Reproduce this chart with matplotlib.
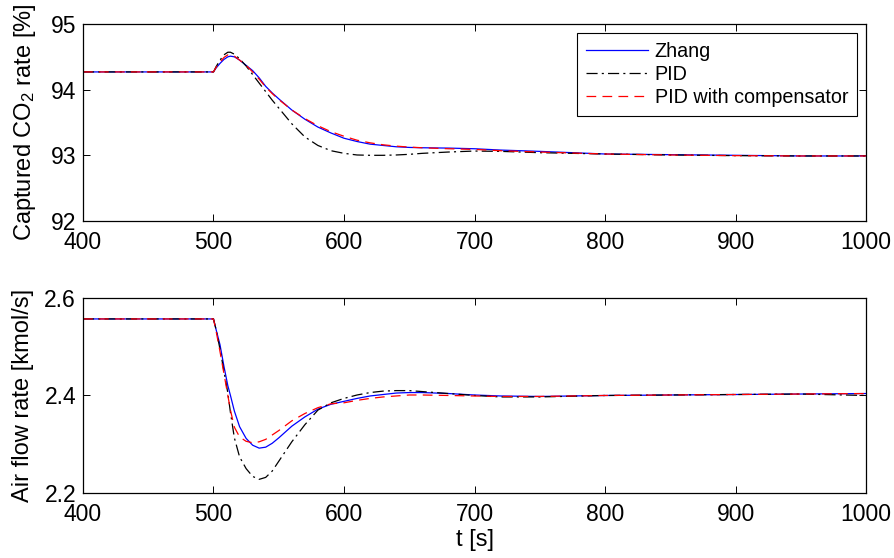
import matplotlib
matplotlib.use("Agg")
import matplotlib.pyplot as plt

plt.rcParams['font.family'] = ['Liberation Sans', 'DejaVu Sans']
plt.rcParams['mathtext.fontset'] = 'custom'
plt.rcParams['mathtext.rm'] = 'Liberation Sans'
plt.rcParams['mathtext.it'] = 'Liberation Sans'
plt.rcParams['lines.scale_dashes'] = False

# time samples [s]
t = [400, 500, 502, 505, 508, 511, 513, 516, 520, 525, 530, 535, 540, 545, 550,
     560, 570, 580, 590, 600, 610, 620, 630, 640, 650, 660, 680, 700, 720, 750,
     800, 850, 900, 950, 1000]

# Captured CO2 rate [%]
co2_zhang = [94.27, 94.27, 94.33, 94.40, 94.46, 94.50, 94.51, 94.50, 94.45, 94.37, 94.29,
             94.18, 94.05, 93.95, 93.86, 93.69, 93.55, 93.43, 93.34, 93.26, 93.21, 93.17,
             93.15, 93.13, 93.12, 93.115, 93.11, 93.10, 93.08, 93.06, 93.02, 93.01, 93.00,
             92.99, 92.99]
co2_pid = [94.27, 94.27, 94.35, 94.45, 94.53, 94.57, 94.57, 94.54, 94.47, 94.36, 94.23,
           94.10, 93.97, 93.84, 93.72, 93.48, 93.28, 93.15, 93.07, 93.03, 93.005, 93.00,
           93.00, 93.005, 93.015, 93.03, 93.05, 93.065, 93.06, 93.04, 93.02, 93.005,
           92.995, 92.99, 92.99]
co2_comp = [94.27, 94.27, 94.34, 94.42, 94.49, 94.53, 94.53, 94.51, 94.45, 94.37, 94.27,
            94.16, 94.04, 93.94, 93.85, 93.69, 93.56, 93.45, 93.36, 93.29, 93.23, 93.19,
            93.16, 93.14, 93.125, 93.115, 93.10, 93.09, 93.07, 93.05, 93.02, 93.005,
            92.995, 92.99, 92.99]

# Air flow rate [kmol/s]
air_zhang = [2.557, 2.557, 2.535, 2.504, 2.46, 2.42, 2.40, 2.368, 2.336, 2.312, 2.298,
             2.292, 2.294, 2.302, 2.313, 2.337, 2.356, 2.372, 2.382, 2.388, 2.394, 2.399,
             2.402, 2.405, 2.406, 2.406, 2.404, 2.401, 2.399, 2.398, 2.400, 2.401, 2.402,
             2.403, 2.404]
air_pid = [2.557, 2.557, 2.535, 2.495, 2.45, 2.405, 2.365, 2.313, 2.274, 2.25, 2.234,
           2.228, 2.232, 2.245, 2.265, 2.305, 2.34, 2.37, 2.385, 2.394, 2.401, 2.406,
           2.409, 2.410, 2.410, 2.408, 2.404, 2.400, 2.397, 2.397, 2.400, 2.401, 2.402,
           2.403, 2.400]
air_comp = [2.557, 2.557, 2.532, 2.49, 2.445, 2.40, 2.37, 2.335, 2.315, 2.306, 2.303,
            2.305, 2.31, 2.319, 2.328, 2.348, 2.363, 2.375, 2.383, 2.385, 2.39, 2.394,
            2.397, 2.399, 2.401, 2.401, 2.400, 2.399, 2.398, 2.398, 2.400, 2.401, 2.402,
            2.403, 2.404]

labels = ['Zhang', 'PID', 'PID with compensator']
xticks = [400, 500, 600, 700, 800, 900, 1000]
yticks_top = [92, 93, 94, 95]
yticks_bot = [2.2, 2.4, 2.6]

fig = plt.figure(figsize=(8.95, 5.58), dpi=100)
ax1 = fig.add_axes([0.0927, 0.604, 0.875, 0.353])
ax2 = fig.add_axes([0.0927, 0.1165, 0.875, 0.3495])

lw = 0.9
styles = [dict(color='#0000ff', linestyle='-', linewidth=lw),
          dict(color='black', linestyle=(0, (8, 3, 1.5, 3)), linewidth=lw),
          dict(color='red', linestyle=(0, (7, 4.5)), linewidth=lw)]

for ax, series, yt, ylab, lx in [
        (ax1, [co2_zhang, co2_pid, co2_comp], yticks_top, r'Captured CO$_2$ rate [%]', -0.057),
        (ax2, [air_zhang, air_pid, air_comp], yticks_bot, 'Air flow rate [kmol/s]', -0.062)]:
    for s, st, lab in zip(series, styles, labels):
        ax.plot(t, s, label=lab, **st)
    ax.set_xlim(400, 1000)
    ax.set_ylim(yt[0], yt[-1])
    ax.set_xticks(xticks)
    ax.set_yticks(yt)
    ax.set_yticklabels([f'{v:g}' for v in yt])
    ax.tick_params(direction='in', length=5, width=0.7, top=True, right=True,
                   labelsize=16.5)
    ax.tick_params(axis='x', pad=7.5)
    ax.tick_params(axis='y', pad=5)
    ax.set_ylabel(ylab, fontsize=17)
    ax.yaxis.set_label_coords(lx, 0.5)
    for sp in ax.spines.values():
        sp.set_linewidth(0.9)

ax2.set_xlabel('t [s]', fontsize=17, labelpad=2)

leg = ax1.legend(loc='upper right', fontsize=14.2, handlelength=3.15, fancybox=False,
                 edgecolor='black', framealpha=1, borderpad=0.45, labelspacing=0.2,
                 handletextpad=0.35, borderaxespad=0.45)
leg.get_frame().set_linewidth(0.8)

fig.savefig('out.png', dpi=100)
